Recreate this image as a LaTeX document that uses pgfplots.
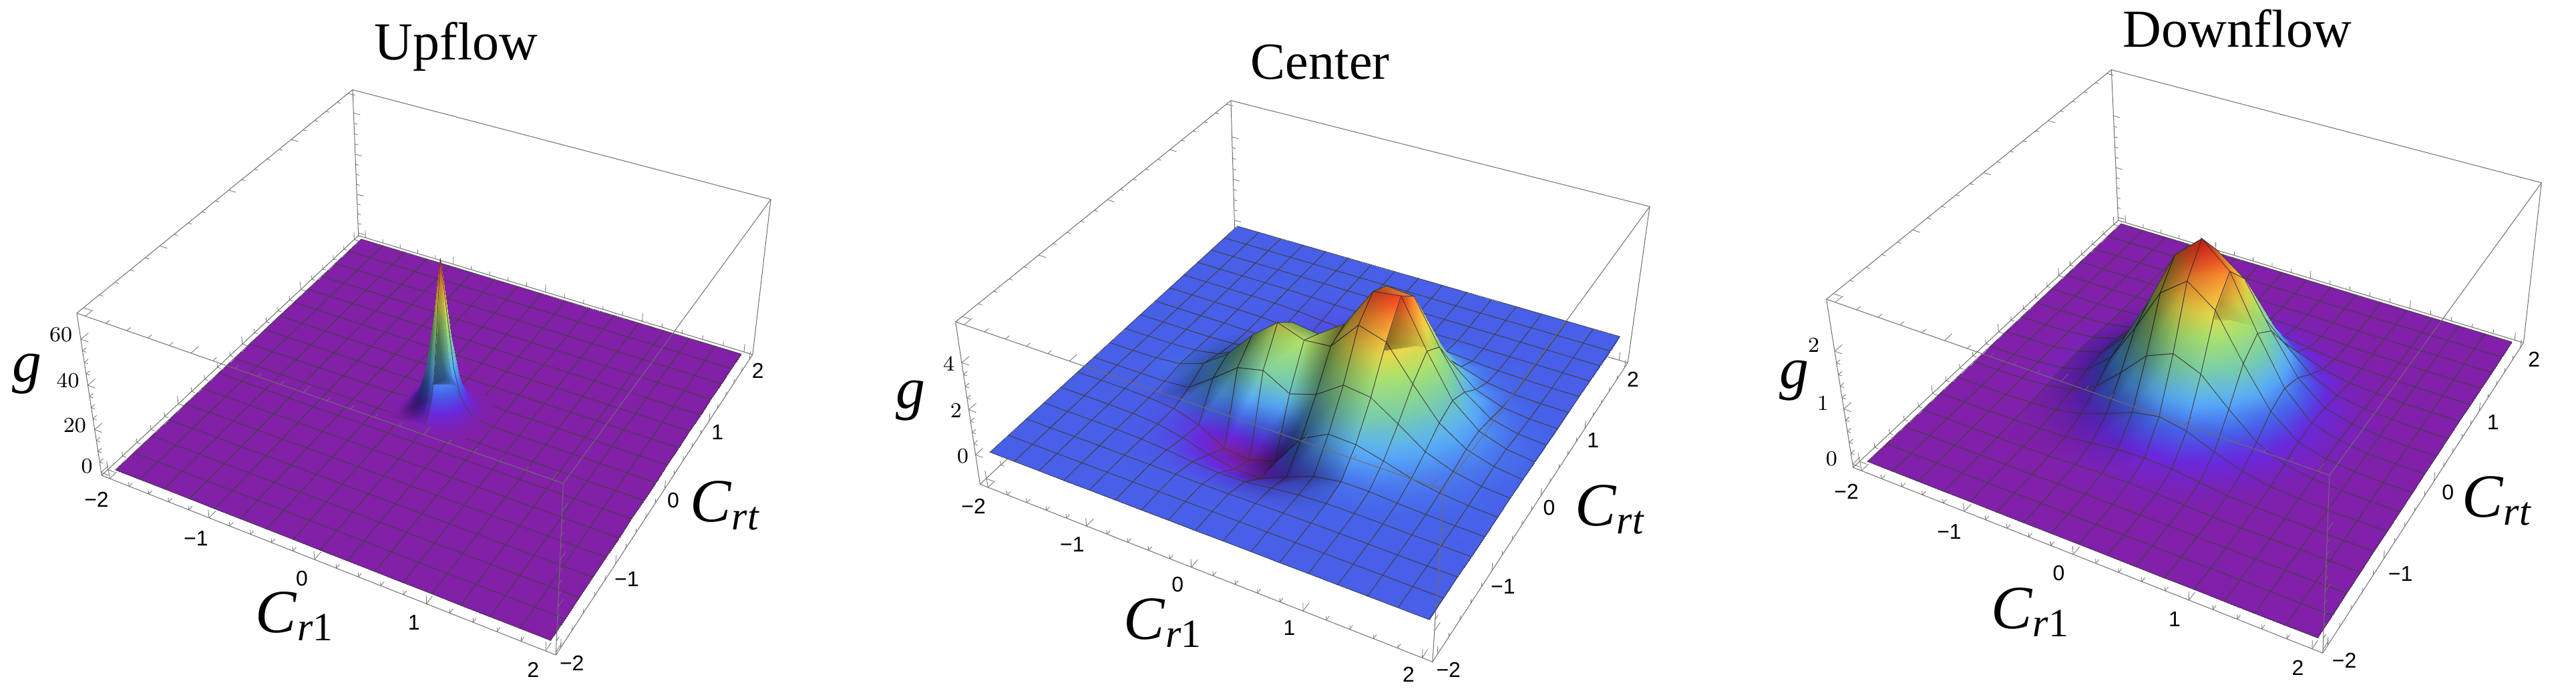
\documentclass[border=0pt]{standalone}
\usepackage{fontspec}
\setmainfont{Liberation Serif}
\newfontfamily\tickfont{Liberation Sans}
\usepackage{pgfplots}
\pgfplotsset{compat=1.18}
\makeatletter
% perspective division: the unit vectors are as usual, the result is divided by w=1+wx*x+wy*y+wz*z
\def\pwx{0}\def\pwy{0}\def\pwz{0}
\let\orig@qpointxyz\pgfqpointxyz
\def\persp@qpointxyz#1#2#3{%
  \orig@qpointxyz{#1}{#2}{#3}%
  \pgf@xa=\pwx pt \pgf@xa=#1\pgf@xa
  \pgf@ya=\pwy pt \pgf@ya=#2\pgf@ya
  \advance\pgf@xa by \pgf@ya
  \pgf@ya=\pwz pt \pgf@ya=#3\pgf@ya
  \advance\pgf@xa by \pgf@ya
  \advance\pgf@xa by 1pt
  \pgfmathreciprocal@{\pgf@sys@tonumber\pgf@xa}%
  \pgf@x=\pgfmathresult\pgf@x
  \pgf@y=\pgfmathresult\pgf@y
}
\let\pgfqpointxyz\persp@qpointxyz
\let\pgfplotsqpointxyz\persp@qpointxyz
\makeatother
\definecolor{boxc}{RGB}{110,110,110}
\pgfplotsset{
  colormap={sh}{gray=(0) gray=(1)},
  colormap={rb}{rgb255=(136,30,155) rgb255=(120,35,188) rgb255=(105,40,220) rgb255=(84,70,227) rgb255=(70,100,233) rgb255=(77,131,240) rgb255=(85,163,247) rgb255=(95,182,232) rgb255=(108,193,201) rgb255=(120,205,170) rgb255=(137,212,150) rgb255=(153,218,130) rgb255=(170,225,110) rgb255=(199,221,93) rgb255=(228,217,77) rgb255=(244,199,65) rgb255=(250,172,57) rgb255=(255,141,48) rgb255=(255,97,40) rgb255=(248,61,34) rgb255=(230,40,30)},
  panel/.style={
    disabledatascaling, clip=false, anchor=origin,
    xmin=-2.0833,xmax=2.0833,ymin=-2.0833,ymax=2.0833,
    xtick={-2,-1,0,1,2}, ytick={-2,-1,0,1,2},
    xticklabels={−2,−1,0,1,2}, yticklabels={−2,−1,0,1,2},
    minor x tick num=4, minor y tick num=4,
    axis lines=box, 3d box=complete,
    xtick pos=left, ytick pos=left, ztick pos=left,
    axis line style={boxc,line width=0.25pt},
    tick style={boxc,line width=0.2pt},
    major tick length=3pt, minor tick length=1.5pt,
    tick align=inside,
    tick label style={font=\tickfont\fontsize{8}{8}\selectfont,inner sep=1pt}
  },
  srf/.style={surf,shader=faceted interp,faceted color=black!75,line width=0.2pt,mesh/rows=17,mesh/ordering=x varies,empty line=none,z buffer=reverse y seq}
}
\begin{document}
\begin{tikzpicture}[x=1pt,y=1pt]
\useasboundingbox (0,0) rectangle (964.25,260);
% ---------- Upflow
\gdef\pwx{-0.02721}\gdef\pwy{0.04858}\gdef\pwz{-0.000859}
\begin{axis}[panel,at={(165.3pt,106.7pt)},
  x={(37.87pt,-12.94pt)},y={(20.56pt,23.77pt)},z={(-0.0066pt,0.772pt)},
  zmin=-1.4,zmax=71,point meta min=-1.4,point meta max=71,
  ztick={0,20,40,60},minor z tick num=3,
  xticklabel style={xshift=-3pt,yshift=-2.5pt},zticklabel style={xshift=-2pt,yshift=3.2pt}]
\addplot3[srf] table[header=false,x expr={-2+0.25*mod(\coordindex,17)},y expr={-2+0.25*floor(\coordindex/17+0.01)},z index=0]{
0
0
0
0
0
0
0
0
0
0
0
0
0
0
0
0
0

0
0
0
0
0
0
0
0
0
0
0
0
0
0
0
0
0

0
0
0
0
0
0
0
0
0
0
0
0
0
0
0
0
0

0
0
0
0
0
0
0
0
0
0
0
0
0
0
0
0
0

0
0
0
0
0
0
0
0
0
0
0
0
0
0
0
0
0

0
0
0
0
0
0
0
0
0
0
0
0
0
0
0
0
0

0
0
0
0
0
0
0
0
0
0
0
0
0
0
0
0
0

0
0
0
0
0
0
0
0.3
1.5
0.3
0
0
0
0
0
0
0

0
0
0
0
0
0
0
1.5
3
1.5
0
0
0
0
0
0
0

0
0
0
0
0
0
0
0.3
1.5
0.3
0
0
0
0
0
0
0

0
0
0
0
0
0
0
0
0
0
0
0
0
0
0
0
0

0
0
0
0
0
0
0
0
0
0
0
0
0
0
0
0
0

0
0
0
0
0
0
0
0
0
0
0
0
0
0
0
0
0

0
0
0
0
0
0
0
0
0
0
0
0
0
0
0
0
0

0
0
0
0
0
0
0
0
0
0
0
0
0
0
0
0
0

0
0
0
0
0
0
0
0
0
0
0
0
0
0
0
0
0

0
0
0
0
0
0
0
0
0
0
0
0
0
0
0
0
0
};
\addplot3[surf,shader=interp,mesh/rows=13,mesh/ordering=x varies,z buffer=reverse y seq] table[header=false,x expr={-0.36+0.06*mod(\coordindex,13)},y expr={-0.36+0.06*floor(\coordindex/13+0.01)},z index=0]{
0
0
0
0
0
0
0
0
0
0
0
0
0
0
0.15
0.3
0.8
1.4
1.9
2
1.9
1.4
0.8
0.3
0.15
0
0
0.3
1
2
3.2
4.5
5
4.5
3.2
2
1
0.3
0
0
0.8
2
4
6.5
9
10
9
6.5
4
2
0.8
0
0
1.4
3.2
6.5
12
18.5
22
18.5
12
6.5
3.2
1.4
0
0
1.9
4.5
9
18.5
34
45
34
18.5
9
4.5
1.9
0
0
2
5
10
22
45
69
45
22
10
5
2
0
0
1.9
4.5
9
18.5
34
45
34
18.5
9
4.5
1.9
0
0
1.4
3.2
6.5
12
18.5
22
18.5
12
6.5
3.2
1.4
0
0
0.8
2
4
6.5
9
10
9
6.5
4
2
0.8
0
0
0.3
1
2
3.2
4.5
5
4.5
3.2
2
1
0.3
0
0
0.15
0.3
0.8
1.4
1.9
2
1.9
1.4
0.8
0.3
0.15
0
0
0
0
0
0
0
0
0
0
0
0
0
0
};
% shading overlay of the left half of the spike: height, brightness
\addplot3[surf,shader=interp,colormap name=sh,/tikz/blend mode=multiply,mesh/rows=11,mesh/ordering=x varies,empty line=none,z buffer=reverse y seq,point meta={-1.4+72.4*\thisrowno{1}}] table[header=false,x expr={-0.36+0.06*mod(\coordindex,7)},y expr={-0.3+0.06*floor(\coordindex/7+0.01)},z index=0]{
0 1
0.15 0.95
0.3 0.95
0.8 0.95
1.4 0.95
1.9 0.95
2 0.95

0 1
0.3 0.95
1 0.85
2 0.75
3.2 0.7
4.5 0.75
5 0.9

0 1
0.8 0.9
2 0.7
4 0.55
6.5 0.5
9 0.55
10 0.85

0 1
1.4 0.9
3.2 0.7
6.5 0.55
12 0.5
18.5 0.55
22 0.85

0 1
1.9 0.9
4.5 0.7
9 0.55
18.5 0.5
34 0.55
45 0.85

0 1
2 0.9
5 0.7
10 0.55
22 0.5
45 0.55
69 0.85

0 1
1.9 0.9
4.5 0.7
9 0.55
18.5 0.5
34 0.55
45 0.85

0 1
1.4 0.9
3.2 0.7
6.5 0.55
12 0.5
18.5 0.55
22 0.85

0 1
0.8 0.9
2 0.7
4 0.55
6.5 0.5
9 0.55
10 0.85

0 1
0.3 0.95
1 0.85
2 0.75
3.2 0.7
4.5 0.75
5 0.9

0 1
0.15 0.95
0.3 0.95
0.8 0.95
1.4 0.95
1.9 0.95
2 0.95
};
\addplot3[black!75,line width=0.2pt,no marks] coordinates {(0,-0.3,2) (0,-0.24,5) (0,-0.18,10) (0,-0.12,22) (0,-0.06,45) (0,0,69)};
\addplot3[black!75,line width=0.2pt,no marks] coordinates {(0.3,0,2) (0.24,0,5) (0.18,0,10) (0.12,0,22) (0.06,0,45) (0,0,69)};
\end{axis}
% ---------- Center
\gdef\pwx{-0.02882}\gdef\pwy{0.04989}\gdef\pwz{-0.00966}
\begin{axis}[panel,at={(493.37pt,113.25pt)},
  x={(38.16pt,-12.555pt)},y={(20.67pt,23.365pt)},z={(0.044pt,8.14pt)},
  zmin=-1.35,zmax=5.67,point meta min=-1.35,point meta max=5.67,
  ztick={0,2,4},minor z tick num=3,
  xticklabel style={xshift=-3.4pt,yshift=-1.8pt},zticklabel style={xshift=-1.5pt,yshift=0.5pt}]
\addplot3[srf] table[header=false,x expr={-2+0.25*mod(\coordindex,17)},y expr={-2+0.25*floor(\coordindex/17+0.01)},z index=0]{
0
0
0
0
0
0
0
0
0
0
0
0
0
0
0
0
0

0
0
0
0
0
0
0
0
0
0
0
0
0
0
0
0
0

0
0
0
0
-0.01
-0.02
-0.03
-0.04
-0.04
-0.02
0
0.01
0.01
0.01
0
0
0

0
0
0
-0.01
-0.05
-0.13
-0.25
-0.33
-0.3
-0.15
-0.02
0.04
0.05
0.04
0.02
0.01
0

0
0
-0.01
-0.03
-0.12
-0.35
-0.7
-0.95
-0.95
-0.45
0
0.2
0.2
0.12
0.07
0.03
0.01

0
0
-0.01
-0.04
-0.15
-0.5
-1.2
-1.3
-0.95
0.5
1.1
1.05
0.75
0.4
0.2
0.08
0.02

0
0
0
0
0.1
0.9
1.75
2
1.35
1.7
2.5
2.35
1.6
0.8
0.35
0.12
0.03

0
0
0.02
0.12
0.5
1.3
2.5
3.4
3
3.1
4.35
4
2.6
1.3
0.55
0.2
0.05

0
0
0.01
0.06
0.25
0.8
1.9
2.75
2.6
3.4
5.1
5.25
3.3
1.55
0.6
0.2
0.05

0
0
0
0.01
0.05
0.25
0.8
1.1
1.2
2.9
4.7
4.6
2.8
1.2
0.4
0.12
0.03

0
0
0
0
-0.02
-0.03
-0.05
-0.05
0.15
1.35
2.6
2.55
1.5
0.6
0.18
0.05
0.01

0
0
0
-0.01
-0.02
-0.1
-0.2
-0.3
-0.2
0.2
0.85
0.95
0.55
0.2
0.05
0.01
0

0
0
0
0
-0.01
-0.06
-0.16
-0.22
-0.2
-0.05
0.12
0.2
0.12
0.04
0.01
0
0

0
0
0
0
0
-0.02
-0.05
-0.07
-0.06
-0.03
0
0.02
0.01
0
0
0
0

0
0
0
0
0
0
-0.01
-0.01
-0.01
0
0
0
0
0
0
0
0

0
0
0
0
0
0
0
0
0
0
0
0
0
0
0
0
0

0
0
0
0
0
0
0
0
0
0
0
0
0
0
0
0
0
};
% shading overlay: same heights on x=-1.25..0.75, y=-1.5..1.25, second column = brightness
\addplot3[surf,shader=interp,colormap name=sh,/tikz/blend mode=multiply,mesh/rows=12,mesh/ordering=x varies,empty line=none,z buffer=reverse y seq,point meta={-1.35+7.02*\thisrowno{1}}] table[header=false,x expr={-1.25+0.25*mod(\coordindex,9)},y expr={-1.5+0.25*floor(\coordindex/9+0.01)},z index=0]{
0 1
-0.01 1
-0.02 1
-0.03 1
-0.04 1
-0.04 1
-0.02 1
0 1
0.01 1

-0.01 1
-0.05 1
-0.13 1
-0.25 1
-0.33 1
-0.3 0.9
-0.15 0.84
-0.02 0.89
0.04 0.96

-0.03 1
-0.12 1
-0.35 1
-0.7 1
-0.95 1
-0.95 0.75
-0.45 0.61
0 0.7
0.2 0.88

-0.04 1
-0.15 1
-0.5 1
-1.2 1
-1.3 0.86
-0.95 0.5
0.5 0.5
1.1 0.78
1.05 1

0 1
0.1 0.7
0.9 0.55
1.75 0.65
2 1
1.35 1
1.7 0.6
2.5 0.78
2.35 1

0.12 0.9
0.5 0.65
1.3 0.5
2.5 0.5
3.4 0.8
3 1
3.1 0.55
4.35 0.75
4 1

0.06 0.95
0.25 0.7
0.8 0.52
1.9 0.5
2.75 0.75
2.6 0.75
3.4 0.42
5.1 0.72
5.25 1

0.01 1
0.05 0.86
0.25 0.7
0.8 0.68
1.1 0.8
1.2 0.5
2.9 0.38
4.7 0.75
4.6 1

0 1
-0.02 1
-0.03 1
-0.05 1
-0.05 0.88
0.15 0.55
1.35 0.42
2.6 0.72
2.55 1

-0.01 1
-0.02 1
-0.1 1
-0.2 1
-0.3 1
-0.2 0.78
0.2 0.62
0.85 0.78
0.95 1

0 1
-0.01 1
-0.06 1
-0.16 1
-0.22 1
-0.2 0.9
-0.05 0.84
0.12 0.9
0.2 1

0 1
0 1
-0.02 1
-0.05 1
-0.07 1
-0.06 1
-0.03 1
0 1
0.02 1
};
\end{axis}
% ---------- Downflow
\gdef\pwx{-0.02707}\gdef\pwy{0.04971}\gdef\pwz{-0.02124}
\begin{axis}[panel,at={(825.03pt,110.6pt)},
  x={(39.05pt,-13.34pt)},y={(21.12pt,24.51pt)},z={(-0.271pt,19.79pt)},
  zmin=-0.06,zmax=2.86,point meta min=-0.06,point meta max=2.86,
  ztick={0,1,2},minor z tick num=4,
  xticklabel style={xshift=-3.7pt,yshift=-2.5pt},yticklabel style={xshift=2pt},zticklabel style={xshift=-4.5pt,yshift=3pt}]
\addplot3[srf] table[header=false,x expr={-2+0.25*mod(\coordindex,17)},y expr={-2+0.25*floor(\coordindex/17+0.01)},z index=0]{
0
0
0
0
0
0
0
0
0
0
0
0
0
0
0
0
0

0
0
0
0
0
0
0
0
0
0
0
0
0
0
0
0
0

0
0
0
0
0
0
0.01
0.01
0.01
0.01
0.01
0
0
0
0
0
0

0
0
0
0
0
0.01
0.03
0.05
0.06
0.05
0.03
0.01
0
0
0
0
0

0
0
0
0.01
0.02
0.04
0.1
0.16
0.18
0.16
0.1
0.04
0.02
0.01
0
0
0

0
0
0
0.02
0.05
0.15
0.32
0.52
0.61
0.52
0.32
0.15
0.05
0.02
0
0
0

0
0
0.01
0.04
0.12
0.35
0.77
1.23
1.43
1.23
0.77
0.35
0.12
0.04
0.01
0
0

0
0
0.02
0.07
0.2
0.59
1.28
2.05
2.4
2.05
1.28
0.59
0.2
0.07
0.02
0
0

0
0.01
0.02
0.09
0.23
0.7
1.52
2.44
2.85
2.44
1.52
0.7
0.23
0.09
0.02
0.01
0

0
0
0.02
0.07
0.2
0.59
1.28
2.05
2.4
2.05
1.28
0.59
0.2
0.07
0.02
0
0

0
0
0.01
0.04
0.12
0.35
0.77
1.23
1.43
1.23
0.77
0.35
0.12
0.04
0.01
0
0

0
0
0
0.02
0.05
0.15
0.32
0.52
0.61
0.52
0.32
0.15
0.05
0.02
0
0
0

0
0
0
0.01
0.02
0.04
0.1
0.16
0.18
0.16
0.1
0.04
0.02
0.01
0
0
0

0
0
0
0
0
0.01
0.03
0.05
0.06
0.05
0.03
0.01
0
0
0
0
0

0
0
0
0
0
0
0.01
0.01
0.01
0.01
0.01
0
0
0
0
0
0

0
0
0
0
0
0
0
0
0
0
0
0
0
0
0
0
0

0
0
0
0
0
0
0
0
0
0
0
0
0
0
0
0
0
};
% shading overlay: same heights on x=-1.25..0.25, y=-1.25..1.25, second column = brightness
\addplot3[surf,shader=interp,colormap name=sh,/tikz/blend mode=multiply,mesh/rows=11,mesh/ordering=x varies,empty line=none,z buffer=reverse y seq,point meta={-0.06+2.92*\thisrowno{1}}] table[header=false,x expr={-1.25+0.25*mod(\coordindex,7)},y expr={-1.25+0.25*floor(\coordindex/7+0.01)},z index=0]{
0 1
0 1
0.01 1
0.03 1
0.05 1
0.06 1
0.05 1

0.01 1
0.02 0.97
0.04 0.93
0.1 0.92
0.16 0.93
0.18 1
0.16 1

0.02 0.96
0.05 0.91
0.15 0.82
0.32 0.77
0.52 0.81
0.61 0.95
0.52 1

0.04 0.92
0.12 0.8
0.35 0.66
0.77 0.59
1.23 0.65
1.43 0.9
1.23 1

0.07 0.88
0.2 0.71
0.59 0.53
1.28 0.46
2.05 0.53
2.4 0.85
2.05 1

0.09 0.85
0.23 0.67
0.7 0.49
1.52 0.42
2.44 0.49
2.85 0.8
2.44 1

0.07 0.88
0.2 0.71
0.59 0.53
1.28 0.46
2.05 0.53
2.4 0.85
2.05 1

0.04 0.92
0.12 0.8
0.35 0.66
0.77 0.59
1.23 0.65
1.43 0.9
1.23 1

0.02 0.96
0.05 0.91
0.15 0.82
0.32 0.77
0.52 0.81
0.61 0.95
0.52 1

0.01 1
0.02 0.97
0.04 0.93
0.1 0.92
0.16 0.93
0.18 1
0.16 1

0 1
0 1
0.01 1
0.03 1
0.05 1
0.06 1
0.05 1
};
\end{axis}
% ---------- titles and axis names
\node[anchor=base,inner sep=0pt] at (170.8,237.5) {\fontsize{20}{20}\selectfont Upflow};
\node[anchor=base,inner sep=0pt] at (494.2,230.25) {\fontsize{19.5}{20}\selectfont Center};
\node[anchor=base,inner sep=0pt] at (837.5,242.25) {\fontsize{20}{20}\selectfont Downflow};
\def\gl{\fontsize{22}{22}\selectfont\itshape g}
\def\ca{\fontsize{23}{23}\selectfont\textit{C}\raisebox{-3pt}{\fontsize{15}{15}\selectfont\textit{r}1}}
\def\cb{\fontsize{23}{23}\selectfont\textit{C}\raisebox{-3pt}{\fontsize{15}{15}\selectfont\textit{rt}}}
\node[inner sep=0pt] at (10.13,120) {\gl};
\node[inner sep=0pt] at (110.2,29.25) {\ca};
\node[inner sep=0pt] at (271.3,70.75) {\cb};
\node[inner sep=0pt] at (340.9,110) {\gl};
\node[inner sep=0pt] at (435.2,26.75) {\ca};
\node[inner sep=0pt] at (602.6,69.25) {\cb};
\node[inner sep=0pt] at (671.65,117.5) {\gl};
\node[inner sep=0pt] at (759.8,30.75) {\ca};
\node[inner sep=0pt] at (934.6,72.5) {\cb};
\end{tikzpicture}
\end{document}
